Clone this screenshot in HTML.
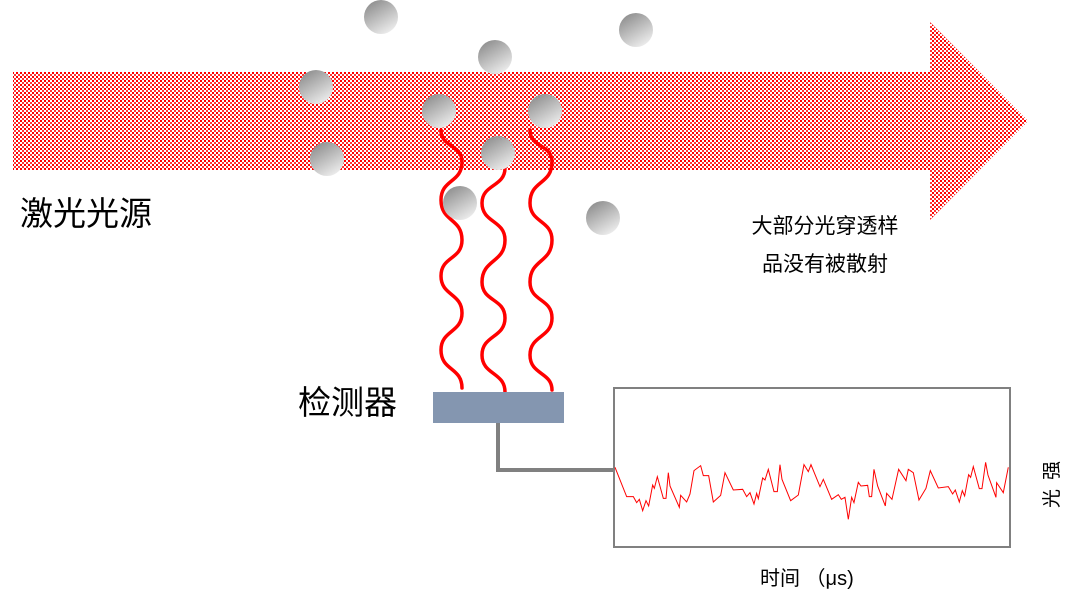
<!DOCTYPE html>
<html><head><meta charset="utf-8"><style>
html,body{margin:0;padding:0;background:#fff;}
svg{display:block;}
text{font-family:"Liberation Sans","Noto Sans CJK SC",sans-serif;}
</style></head><body>
<svg width="1072" height="602" viewBox="0 0 1072 602" xmlns="http://www.w3.org/2000/svg">
<defs>
<pattern id="chk" width="4" height="4" patternUnits="userSpaceOnUse">
<rect width="4" height="4" fill="#fff"/>
<rect x="0" y="0" width="2" height="2" fill="#f00"/>
<rect x="2" y="2" width="2" height="2" fill="#f33"/>
</pattern>
<linearGradient id="sph" x1="0.2" y1="0" x2="0.8" y2="1">
<stop offset="0" stop-color="#8c8c8c"/><stop offset="1" stop-color="#f2f2f2"/>
</linearGradient>
</defs>
<polygon points="13,72 930,72 930,22 1028,121 930,220 930,170 13,170" fill="url(#chk)"/>
<g fill="none" stroke="#f00" stroke-width="3.5" stroke-linecap="round">
<path d="M441,130 C441,148 462,144 462,162 C462,183 441,179 441,200 C441,222 462,218 462,240 C462,260 441,256 441,276 C441,296 462,293 462,313 C462,333 441,330 441,350 C441,371 462,367 462,388"/>
<path d="M505,168 C505,187 482,184 482,203 C482,223 505,220 505,240 C505,263 482,259 482,282 C482,302 505,298 505,318 C505,338 482,335 482,355 C482,375 505,372 505,392"/>
<path d="M530,130 C530,148 552,144 552,162 C552,185 530,180 530,203 C530,223 552,220 552,240 C552,263 530,259 530,282 C530,302 552,298 552,318 C552,338 530,335 530,355 C530,375 552,372 552,390"/>
</g>
<g fill="url(#sph)">
<circle cx="381" cy="17" r="17"/><circle cx="636" cy="30" r="17"/><circle cx="495" cy="57" r="17"/>
<circle cx="316" cy="87" r="17"/><circle cx="439" cy="111" r="17"/><circle cx="545" cy="111" r="17"/>
<circle cx="327" cy="159" r="17"/><circle cx="498" cy="153" r="17"/><circle cx="460" cy="203" r="17"/>
<circle cx="603" cy="218" r="17"/>
</g>
<rect x="433" y="392" width="131" height="31" fill="#8496b0"/>
<polyline points="498,423 498,470 614,470" fill="none" stroke="#808080" stroke-width="4"/>
<rect x="614" y="388" width="396" height="159" fill="none" stroke="#808080" stroke-width="2"/>
<g transform="translate(600,380) scale(0.3333)">
<polyline fill="none" stroke="#f00" stroke-width="1" vector-effect="non-scaling-stroke" points="45,262 80,350 100,350 110,368 118,358 128,392 138,362 146,378 158,315 163,325 172,290 190,355 198,355 205,278 210,318 238,382 242,346 260,366 270,342 282,272 302,257 310,287 326,287 340,366 362,346 375,278 400,330 428,328 440,350 450,338 462,372 470,340 475,356 488,294 495,300 505,268 522,335 532,335 540,254 546,298 572,362 595,345 612,254 625,275 633,254 660,320 670,298 695,358 715,344 724,358 735,352 745,418 755,352 762,368 775,307 783,318 803,316 808,350 815,350 822,268 833,318 856,378 860,340 876,358 896,268 918,302 925,268 940,278 957,360 978,325 991,272 1015,324 1045,320 1058,342 1066,330 1078,366 1087,332 1094,348 1106,284 1112,292 1120,260 1138,326 1146,326 1157,247 1164,285 1188,352 1190,308 1210,338 1225,262"/>
</g>
<text x="20" y="225" font-size="33" fill="#000">激光光源</text>
<text x="298" y="414" font-size="33" fill="#000">检测器</text>
<text x="825" y="233" font-size="21" fill="#000" text-anchor="middle">大部分光穿透样</text>
<text x="825" y="271" font-size="21" fill="#000" text-anchor="middle">品没有被散射</text>
<text x="760" y="585" font-size="20" fill="#000">时间 （μs)</text>
<text transform="translate(1058,508) rotate(-90)" font-size="19" fill="#000" letter-spacing="9">光强</text>
</svg>
</body></html>
